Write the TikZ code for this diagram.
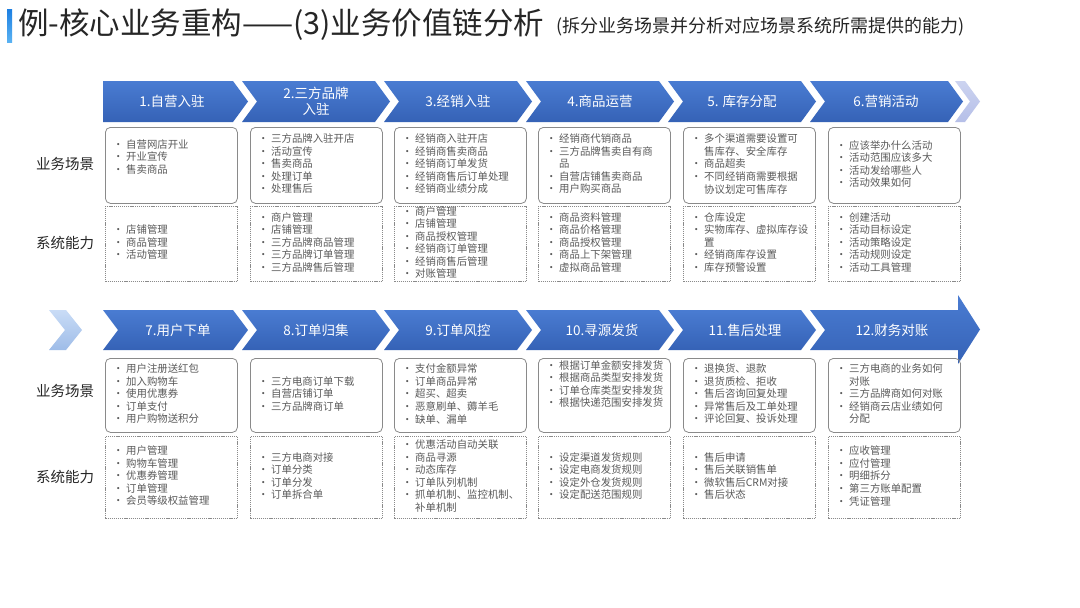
\documentclass[tikz,border=0pt]{standalone}
\usepackage{fontspec}
\setmainfont{Noto Sans CJK SC}
\usetikzlibrary{calc}
\definecolor{cvtop}{HTML}{4A7CD2}
\definecolor{cvbot}{HTML}{3562B6}
\definecolor{lvtop}{HTML}{CCD3F0}
\definecolor{lvbot}{HTML}{B5BFE8}
\definecolor{lbtop}{HTML}{C9DCF6}
\definecolor{lbbot}{HTML}{9EBCE8}
\definecolor{bartop}{HTML}{1C7FE2}
\definecolor{barbot}{HTML}{5AB2F2}
\definecolor{boxgray}{HTML}{8A8A8A}
\definecolor{txtgray}{HTML}{5A5A5A}
\definecolor{labdark}{HTML}{262626}
\newcommand\bu{•&}
\newcommand\lst[1]{\begin{tabular}{@{}p{13pt}@{}l@{}}#1\end{tabular}}
\tikzset{
  chev/.style={top color=cvtop, bottom color=cvbot},
  sbox/.style={draw=boxgray, line width=0.8pt, rounded corners=5pt, minimum width=132pt, inner sep=0pt},
  dbox/.style={draw=boxgray, line width=0.8pt, dash pattern=on 1.2pt off 0.9pt, minimum width=132pt, inner sep=0pt},
  txt/.style={inner sep=0pt, text=txtgray, font=\fontsize{10.4}{12.5}\selectfont},
  clab/.style={text=white, font=\fontsize{13.5}{16}\selectfont, align=center, inner sep=0pt},
  rlab/.style={text=labdark, font=\fontsize{14.5}{16}\selectfont, inner sep=0pt},
}
% name, x, y, h, style, dy, content
\newcommand\cell[7]{%
  \node[#5, anchor=north west, minimum height=#4pt] (#1) at (#2,#3) {};
  \node[txt, anchor=west] (#1t) at ($(#1.west)+(8,#6)$) {\lst{#7}};
}
\newcommand\chevN[4]{\path[chev] (#1,#3) -- (#2,#3) -- ({#2+15},{(#3+#4)/2}) -- (#2,#4) -- (#1,#4) -- ({#1+15},{(#3+#4)/2}) -- cycle;}
\newcommand\chevF[4]{\path[chev] (#1,#3) -- (#2,#3) -- ({#2+15},{(#3+#4)/2}) -- (#2,#4) -- (#1,#4) -- cycle;}
\begin{document}
\begin{tikzpicture}[x=1pt,y=-1pt]
\useasboundingbox (0,0) rectangle (1080,608);
\fill[white] (0,0) rectangle (1080,608);
% title
\path[top color=bartop, bottom color=barbot] (7,9) rectangle (12,42);
\node[anchor=west, inner sep=0pt, text=labdark, font=\fontsize{30.5}{33}\selectfont] (title) at (18,25) {例-核心业务重构——(3)业务价值链分析};
\node[anchor=west, inner sep=0pt, text=labdark, font=\fontsize{18}{21}\selectfont] (subtitle) at (556,27) {(拆分业务场景并分析对应场景系统所需提供的能力)};
% top chevrons
\chevF{103}{233}{81}{122}
\chevN{242}{375}{81}{122}
\chevN{384}{517}{81}{122}
\chevN{526}{659}{81}{122}
\chevN{668}{801}{81}{122}
\path[top color=lvtop, bottom color=lvbot] (955,81) -- (965,81) -- (980,101.5) -- (965,122) -- (955,122) -- (970,101.5) -- cycle;
\chevN{810}{948}{81}{122}
\node[clab] (c1) at (172,101.5) {1.自营入驻};
\node[clab] (c2) at (316,101.5) {2.三方品牌\\入驻};
\node[clab] (c3) at (458,101.5) {3.经销入驻};
\node[clab] (c4) at (600,101.5) {4.商品运营};
\node[clab] (c5) at (742,101.5) {5. 库存分配};
\node[clab] (c6) at (886,101.5) {6.营销活动};
% bottom chevrons
\path[top color=lbtop, bottom color=lbbot] (49,310) -- (66,310) -- (82,330) -- (66,350) -- (49,350) -- (65,330) -- cycle;
\chevN{103}{233}{310}{350}
\chevN{242}{375}{310}{350}
\chevN{384}{517}{310}{350}
\chevN{526}{659}{310}{350}
\chevN{668}{801}{310}{350}
\path[chev] (810,310) -- (958,310) -- (958,295) -- (980,329.5) -- (958,364) -- (958,350) -- (810,350) -- (825,330) -- cycle;
\node[clab] (c7) at (178,330) {7.用户下单};
\node[clab] (c8) at (316,330) {8.订单归集};
\node[clab] (c9) at (458,330) {9.订单风控};
\node[clab] (c10) at (602,330) {10.寻源发货};
\node[clab] (c11) at (745,330) {11.售后处理};
\node[clab] (c12) at (892,330) {12.财务对账};
% row labels
\node[rlab] (l1) at (65,164) {业务场景};
\node[rlab] (l2) at (65,243) {系统能力};
\node[rlab] (l3) at (65,391) {业务场景};
\node[rlab] (l4) at (65,477) {系统能力};
% top scenario boxes
\cell{a1}{105}{127}{76}{sbox}{-7}{\bu 自营网店开业\\ \bu 开业宣传\\ \bu 售卖商品}
\cell{a2}{250}{127}{76}{sbox}{0}{\bu 三方品牌入驻开店\\ \bu 活动宣传\\ \bu 售卖商品\\ \bu 处理订单\\ \bu 处理售后}
\cell{a3}{394}{127}{76}{sbox}{0}{\bu 经销商入驻开店\\ \bu 经销商售卖商品\\ \bu 经销商订单发货\\ \bu 经销商售后订单处理\\ \bu 经销商业绩分成}
\cell{a4}{538}{127}{76}{sbox}{0}{\bu 经销商代销商品\\ \bu 三方品牌售卖自有商\\ & 品\\ \bu 自营店铺售卖商品\\ \bu 用户购买商品}
\cell{a5}{683}{127}{76}{sbox}{0}{\bu 多个渠道需要设置可\\ & 售库存、安全库存\\ \bu 商品超卖\\ \bu 不同经销商需要根据\\ & 协议划定可售库存}
\cell{a6}{828}{127}{76}{sbox}{0}{\bu 应该举办什么活动\\ \bu 活动范围应该多大\\ \bu 活动发给哪些人\\ \bu 活动效果如何}
% top system boxes
\cell{b1}{105}{206}{75}{dbox}{0}{\bu 店铺管理\\ \bu 商品管理\\ \bu 活动管理}
\cell{b2}{250}{206}{75}{dbox}{0}{\bu 商户管理\\ \bu 店铺管理\\ \bu 三方品牌商品管理\\ \bu 三方品牌订单管理\\ \bu 三方品牌售后管理}
\cell{b3}{394}{206}{75}{dbox}{0}{\bu 商户管理\\ \bu 店铺管理\\ \bu 商品授权管理\\ \bu 经销商订单管理\\ \bu 经销商售后管理\\ \bu 对账管理}
\cell{b4}{538}{206}{75}{dbox}{0}{\bu 商品资料管理\\ \bu 商品价格管理\\ \bu 商品授权管理\\ \bu 商品上下架管理\\ \bu 虚拟商品管理}
\cell{b5}{683}{206}{75}{dbox}{0}{\bu 仓库设定\\ \bu 实物库存、虚拟库存设\\ & 置\\ \bu 经销商库存设置\\ \bu 库存预警设置}
\cell{b6}{828}{206}{75}{dbox}{0}{\bu 创建活动\\ \bu 活动目标设定\\ \bu 活动策略设定\\ \bu 活动规则设定\\ \bu 活动工具管理}
% bottom scenario boxes
\cell{d1}{105}{358}{74}{sbox}{0}{\bu 用户注册送红包\\ \bu 加入购物车\\ \bu 使用优惠券\\ \bu 订单支付\\ \bu 用户购物送积分}
\cell{d2}{250}{358}{74}{sbox}{0}{\bu 三方电商订单下载\\ \bu 自营店铺订单\\ \bu 三方品牌商订单}
\cell{d3}{394}{358}{74}{sbox}{0}{\bu 支付金额异常\\ \bu 订单商品异常\\ \bu 超买、超卖\\ \bu 恶意刷单、薅羊毛\\ \bu 缺单、漏单}
\cell{d4}{538}{358}{74}{sbox}{-10}{\bu 根据订单金额安排发货\\ \bu 根据商品类型安排发货\\ \bu 订单仓库类型安排发货\\ \bu 根据快递范围安排发货}
\cell{d5}{683}{358}{74}{sbox}{0}{\bu 退换货、退款\\ \bu 退货质检、拒收\\ \bu 售后咨询回复处理\\ \bu 异常售后及工单处理\\ \bu 评论回复、投诉处理}
\cell{d6}{828}{358}{74}{sbox}{0}{\bu 三方电商的业务如何\\ & 对账\\ \bu 三方品牌商如何对账\\ \bu 经销商云店业绩如何\\ & 分配}
% bottom system boxes
\cell{e1}{105}{436}{82}{dbox}{0}{\bu 用户管理\\ \bu 购物车管理\\ \bu 优惠券管理\\ \bu 订单管理\\ \bu 会员等级权益管理}
\cell{e2}{250}{436}{82}{dbox}{0}{\bu 三方电商对接\\ \bu 订单分类\\ \bu 订单分发\\ \bu 订单拆合单}
\cell{e3}{394}{436}{82}{dbox}{0}{\bu 优惠活动自动关联\\ \bu 商品寻源\\ \bu 动态库存\\ \bu 订单队列机制\\ \bu 抓单机制、监控机制、\\ & 补单机制}
\cell{e4}{538}{436}{82}{dbox}{0}{\bu 设定渠道发货规则\\ \bu 设定电商发货规则\\ \bu 设定外仓发货规则\\ \bu 设定配送范围规则}
\cell{e5}{683}{436}{82}{dbox}{0}{\bu 售后申请\\ \bu 售后关联销售单\\ \bu 微软售后CRM对接\\ \bu 售后状态}
\cell{e6}{828}{436}{82}{dbox}{0}{\bu 应收管理\\ \bu 应付管理\\ \bu 明细拆分\\ \bu 第三方账单配置\\ \bu 凭证管理}
\end{tikzpicture}
\end{document}
